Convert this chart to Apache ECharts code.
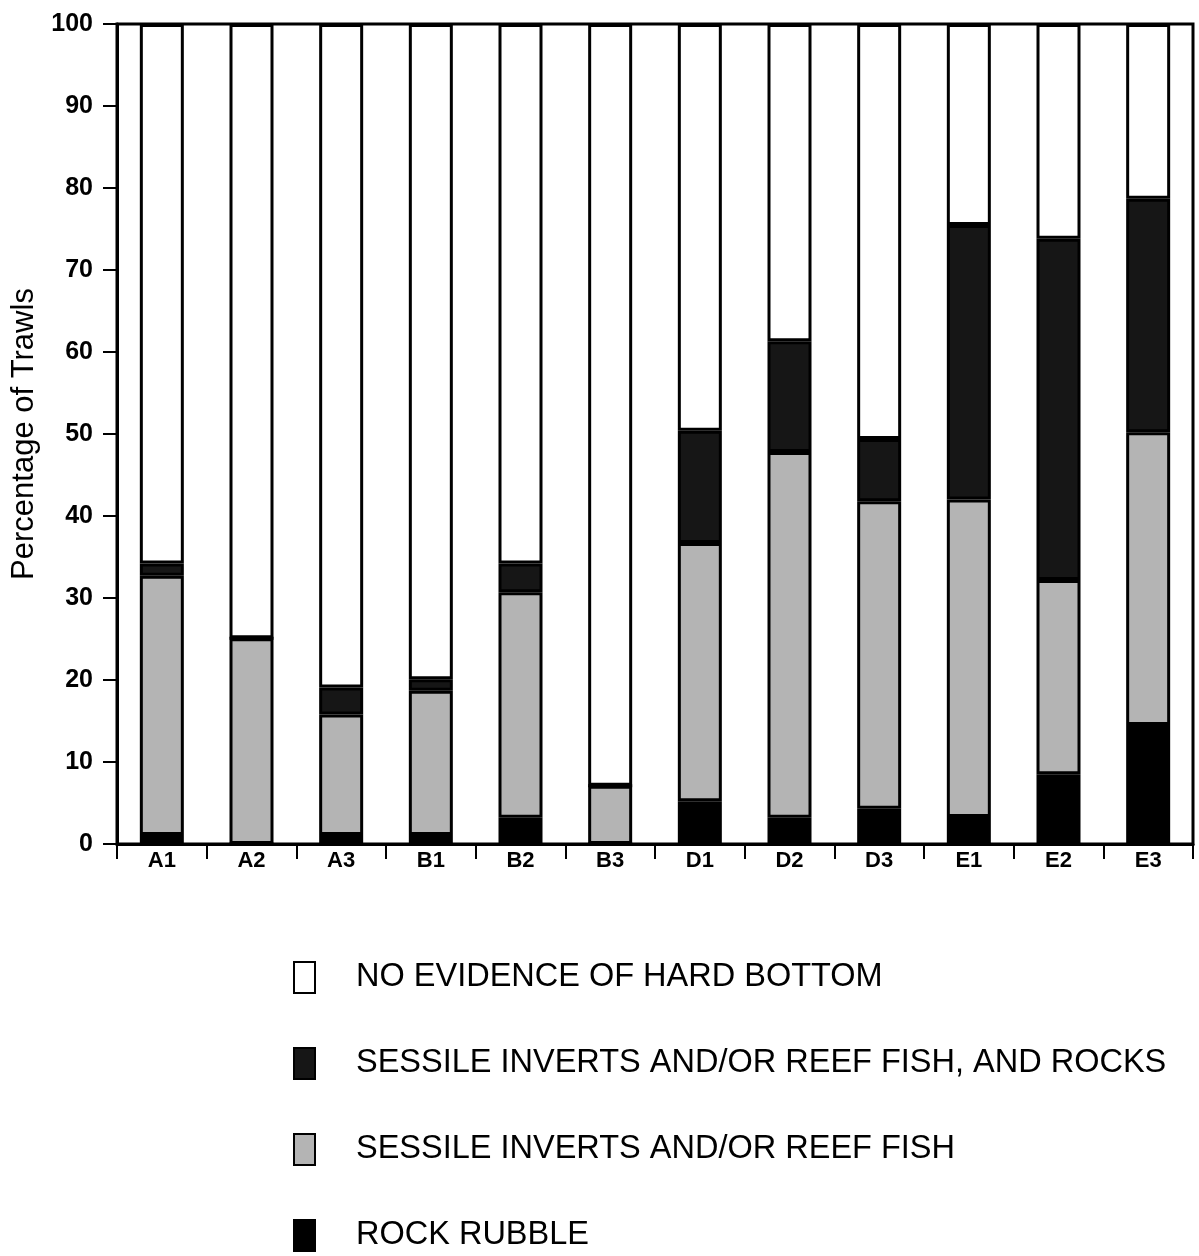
<!DOCTYPE html>
<html>
<head>
<meta charset="utf-8">
<script src="https://cdn.jsdelivr.net/npm/echarts@6/dist/echarts.min.js"></script>
<style>
  html, body { margin: 0; padding: 0; background: #fff; }
  #chart { width: 1199px; height: 1256px; }
</style>
</head>
<body>
<div id="chart"></div>
<script>
const categories = ['A1', 'A2', 'A3', 'B1', 'B2', 'B3', 'D1', 'D2', 'D3', 'E1', 'E2', 'E3'];
const rockRubble = [1.1, 0, 1.1, 1.1, 3.2, 0, 5.2, 3.2, 4.3, 3.3, 8.5, 14.5];
const sessileReef = [31.6, 25.1, 14.7, 17.6, 27.5, 7.1, 31.5, 44.6, 37.5, 38.7, 23.7, 35.7];
const sessileReefRocks = [1.5, 0, 3.3, 1.4, 3.5, 0, 13.7, 13.5, 7.6, 33.5, 41.6, 28.5];
const noHardBottom = [65.8, 74.9, 80.9, 79.9, 65.8, 92.9, 49.6, 38.7, 50.6, 24.5, 26.2, 21.3];
const yTicks = [0, 10, 20, 30, 40, 50, 60, 70, 80, 90, 100];

const names = {
  none: 'NO EVIDENCE OF HARD BOTTOM',
  rocks: 'SESSILE INVERTS AND/OR REEF FISH, AND ROCKS',
  reef: 'SESSILE INVERTS AND/OR REEF FISH',
  rubble: 'ROCK RUBBLE'
};

const chart = echarts.init(document.getElementById('chart'), null, { renderer: 'canvas' });

function barSeries(name, data, color) {
  return {
    name: name,
    type: 'bar',
    stack: 'total',
    data: data,
    barWidth: 44,
    itemStyle: { color: color, borderColor: '#000', borderWidth: 3 },
    emphasis: { disabled: true },
    animation: false
  };
}

const option = {
  animation: false,
  backgroundColor: '#fff',
  grid: {
    left: 117, right: 6, top: 24, bottom: 412,
    show: true, borderColor: '#000', borderWidth: 3, backgroundColor: 'transparent'
  },
  xAxis: {
    type: 'category',
    data: categories,
    axisLine: { lineStyle: { color: '#000', width: 3 } },
    axisTick: { show: true, length: 15, lineStyle: { color: '#000', width: 2 } },
    axisLabel: {
      color: '#000', fontFamily: 'Liberation Sans, Arial, sans-serif',
      fontSize: 22, fontWeight: 'bold', margin: 6
    },
    splitLine: { show: false }
  },
  yAxis: {
    type: 'value',
    min: yTicks[0], max: yTicks[yTicks.length - 1], interval: 10,
    name: 'Percentage of Trawls',
    nameLocation: 'middle',
    nameGap: 74,
    nameRotate: 90,
    nameTextStyle: { color: '#000', fontFamily: 'Liberation Sans, Arial, sans-serif', fontSize: 31 },
    axisLine: { show: true, lineStyle: { color: '#000', width: 3 } },
    axisTick: { show: true, length: 14, lineStyle: { color: '#000', width: 2 } },
    axisLabel: {
      color: '#000', fontFamily: 'Liberation Sans, Arial, sans-serif',
      fontSize: 25, fontWeight: 'bold', margin: 24
    },
    splitLine: { show: false }
  },
  legend: {
    orient: 'vertical',
    left: 293,
    top: 961,
    padding: 0,
    itemWidth: 21,
    itemHeight: 31,
    itemGap: 53,
    icon: 'rect',
    selectedMode: false,
    data: [names.none, names.rocks, names.reef, names.rubble],
    textStyle: {
      color: '#000',
      fontFamily: "'Liberation Sans', Arial, sans-serif",
      fontSize: 32.5,
      padding: [0, 0, 0, 36]
    }
  },
  series: [
    barSeries(names.rubble, rockRubble, '#000000'),
    barSeries(names.reef, sessileReef, '#b4b4b4'),
    barSeries(names.rocks, sessileReefRocks, '#161616'),
    barSeries(names.none, noHardBottom, '#ffffff')
  ]
};

chart.setOption(option);
</script>
</body>
</html>
